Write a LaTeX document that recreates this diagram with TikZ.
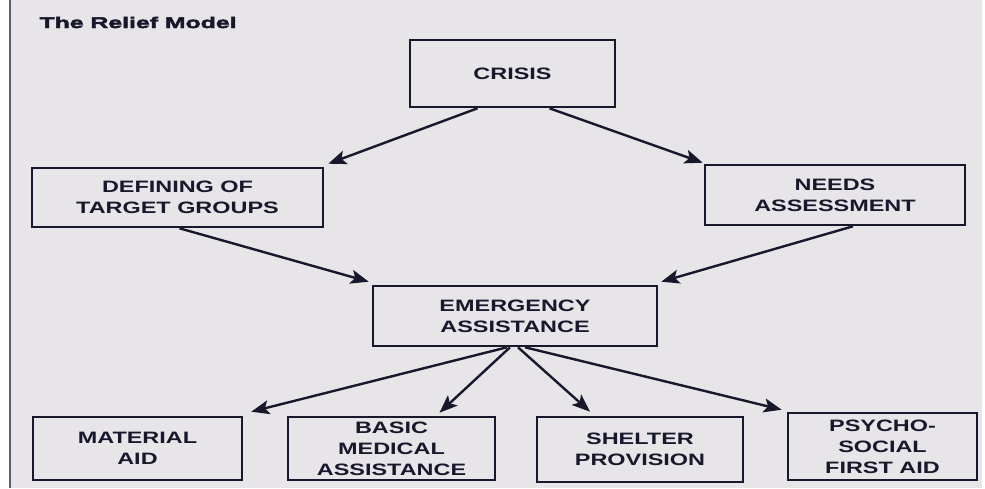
\documentclass[tikz,border=0pt]{standalone}
\usepackage{fontspec}
\usetikzlibrary{arrows.meta}
\newfontfamily\widefont{Liberation Sans}[FakeStretch=1.42]
\newfontfamily\titlefont{Liberation Sans}[FakeStretch=1.6, FakeBold=3]
\definecolor{ink}{HTML}{17182B}
\definecolor{paper}{HTML}{E7E5E8}
\begin{document}
\begin{tikzpicture}[x=1pt,y=-1pt,
  box/.style={draw=ink, line width=2.6pt, inner sep=0pt, align=center, text=ink,
    font=\widefont\bfseries\fontsize{16.5}{21}\selectfont},
  arr/.style={draw=ink, line width=2.4pt, -{Stealth[length=18pt,width=14pt,inset=4pt]}}]
\useasboundingbox (0,0) rectangle (985,488);
\fill[white] (0,0) rectangle (985,488);
\fill[paper] (10,0) rectangle (982,488);
\draw[ink!70, line width=1.5pt] (10,0) -- (10,488);
\node[anchor=base west, text=ink, font=\titlefont\bfseries\fontsize{15.5}{18}\selectfont] (title) at (36,28) {The Relief Model};
\node[box, minimum width=205pt, minimum height=67pt] (crisis) at (512.5,73.5) {CRISIS};
\node[box, minimum width=291pt, minimum height=59pt] (defining) at (177.5,197.5) {DEFINING OF\\TARGET GROUPS};
\node[box, minimum width=260pt, minimum height=60pt] (needs) at (835,195) {NEEDS\\ASSESSMENT};
\node[box, minimum width=284pt, minimum height=60pt] (emergency) at (515,316) {EMERGENCY\\ASSISTANCE};
\node[box, minimum width=209pt, minimum height=63pt] (material) at (137.5,448.5) {MATERIAL\\AID};
\node[box, minimum width=207pt, minimum height=63pt] (basic) at (391.5,448.5) {BASIC\\MEDICAL\\ASSISTANCE};
\node[box, minimum width=206pt, minimum height=65pt] (shelter) at (640,449.5) {SHELTER\\PROVISION};
\node[box, minimum width=189pt, minimum height=67pt] (psycho) at (882.5,446.5) {PSYCHO-\\SOCIAL\\FIRST AID};
\draw[arr] ([xshift=-35pt]crisis.south) -- ([xshift=4pt,yshift=3pt]defining.north east);
\draw[arr] ([xshift=37pt]crisis.south) -- ([xshift=-1pt,yshift=1pt]needs.north west);
\draw[arr] ([xshift=2pt]defining.south) -- ([xshift=-3pt,yshift=3pt]emergency.north west);
\draw[arr] ([xshift=18pt]needs.south) -- ([xshift=3pt,yshift=3pt]emergency.north east);
\draw[arr] ([xshift=-8pt]emergency.south) -- ([xshift=8pt,yshift=4pt]material.north east);
\draw[arr] ([xshift=-5pt]emergency.south) -- ([xshift=48pt,yshift=3pt]basic.north);
\draw[arr] ([xshift=3pt]emergency.south) -- ([xshift=-50pt,yshift=4pt]shelter.north);
\draw[arr] ([xshift=10pt]emergency.south) -- ([xshift=-5pt,yshift=2pt]psycho.north west);
\end{tikzpicture}
\end{document}
